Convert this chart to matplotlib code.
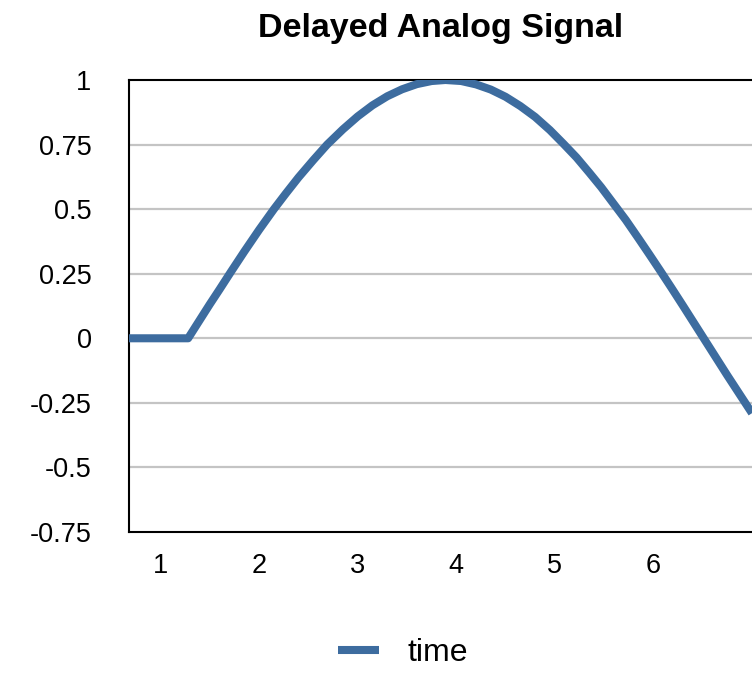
import numpy as np
import matplotlib
matplotlib.use('Agg')
import matplotlib.pyplot as plt

# --- values ---
t_vals = [0.68, 1.28, 1.5, 1.6, 1.71, 1.85, 2.0, 2.15, 2.27, 2.4, 2.55, 2.69,
          2.85, 3.0, 3.15, 3.3, 3.45, 3.6, 3.75, 3.89, 4.05, 4.2, 4.35, 4.5,
          4.65, 4.8, 4.95, 5.09, 5.22, 5.35, 5.47, 5.59, 5.72, 5.85, 5.96, 6.07,
          6.18, 6.3, 6.4, 6.51, 6.63, 6.75, 6.88, 7.0]
signal = [0.0, 0.0, 0.132, 0.19, 0.255, 0.336, 0.42, 0.5, 0.56, 0.623, 0.69, 0.75,
          0.809, 0.859, 0.902, 0.937, 0.964, 0.984, 0.996, 1.0, 0.996, 0.983, 0.963, 0.935,
          0.899, 0.857, 0.806, 0.752, 0.7, 0.641, 0.585, 0.524, 0.458, 0.386, 0.324, 0.261,
          0.197, 0.126, 0.066, 0.0, -0.072, -0.144, -0.22, -0.29]
x_ticks = [1, 2, 3, 4, 5, 6]
y_ticks = [-0.75, -0.5, -0.25, 0, 0.25, 0.5, 0.75, 1]
y_labels = ['-0.75', '-0.5', '-0.25', '0', '0.25', '0.5', '0.75', '1']

plt.rcParams['font.family'] = ['Liberation Sans', 'DejaVu Sans']

fig = plt.figure(figsize=(7.52, 6.73), dpi=100)
ax = fig.add_axes([129 / 752, 1 - 532 / 673, 1 - 129 / 752, 452 / 673])

line_color = '#3d6c9f'
ax.plot(t_vals, signal, color=line_color, linewidth=5.8, solid_capstyle='butt',
        solid_joinstyle='round', label='time', zorder=3)

ax.set_xlim(0.68, 7.0)
ax.set_ylim(-0.75, 1)

ax.set_yticks(y_ticks)
ax.set_yticklabels(y_labels)
ax.set_xticks(x_ticks)
ax.set_xticklabels([str(v) for v in x_ticks])
ax.tick_params(axis='both', length=0, labelsize=19.5, colors='black')
ax.tick_params(axis='x', pad=15)
ax.tick_params(axis='y', pad=27)

# horizontal grid only
for yv in y_ticks[1:-1]:
    ax.axhline(yv, color='#c4c4c4', linewidth=1.6, zorder=1)

for side in ['left', 'bottom', 'top']:
    ax.spines[side].set_color('black')
    ax.spines[side].set_linewidth(1.5)
ax.spines['right'].set_visible(False)

fig.text(441 / 752, 1 - 37 / 673, 'Delayed Analog Signal', ha='center',
         va='baseline', fontsize=24.5, fontweight='bold')

fig.legend(loc='center', bbox_to_anchor=(403 / 752, 1 - 653 / 673), frameon=False,
           fontsize=23, handlelength=1.3, handletextpad=0.9)

fig.savefig('out.png', dpi=100)
